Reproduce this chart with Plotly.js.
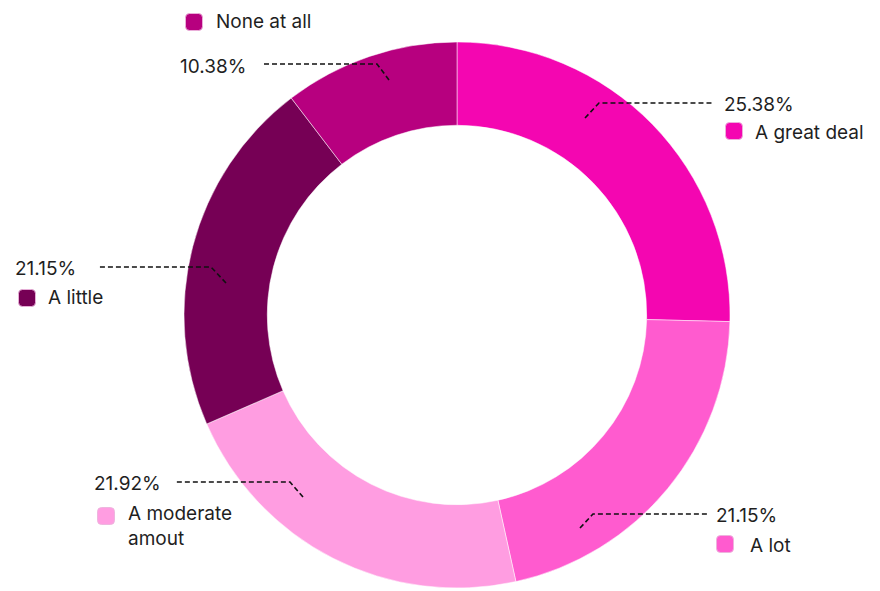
<!DOCTYPE html>
<html><head><meta charset="utf-8">
<script src="https://cdn.plot.ly/plotly-3.0.1.min.js"></script>
<style>html,body{margin:0;padding:0;background:#fff}#chart{width:880px;height:591px}</style>
</head><body><div id="chart"></div><script>
const categories = ['A great deal', 'A lot', 'A moderate amout', 'A little', 'None at all'];
const legendLabels = ['A great deal', 'A lot', 'A moderate<br>amout', 'A little', 'None at all'];
const values = [25.38, 21.15, 21.92, 21.15, 10.38];
const colors = ['#F406B1', '#FF5BCF', '#FF9DE1', '#760055', '#B7007F'];

const W = 880, H = 591;
const px = x => x / W, py = y => 1 - y / H;

// annotation placement (pixels) for each category
const labelLayout = [
  {tip: [585, 118], elbow: [599, 103], end: 713, pct: [722, 104, 'left'], box: [734, 131], text: [753, 132]},
  {tip: [580, 528], elbow: [593, 514], end: 707, pct: [714, 515, 'left'], box: [725, 544], text: [748, 545]},
  {tip: [303, 497], elbow: [290, 482], end: 176, pct: [163, 483, 'right'], box: [106, 516], text: [126, 526]},
  {tip: [226, 283], elbow: [211, 267], end: 97, pct: [78, 268, 'right'], box: [27, 298], text: [46, 297]},
  {tip: [389, 80], elbow: [377, 64], end: 262, pct: [248, 66, 'right'], box: [194, 22], text: [214, 22]}
];

const cx = 457, cy = 315, R = 273;
const fontFam = 'Inter, "Open Sans", sans-serif';
const fontSize = 19;
const textColor = '#1f1f1f';

const shapes = [], annotations = [];
function roundRect(cxp, cyp, s, r) {
  const x0 = cxp - s / 2, x1 = cxp + s / 2, y0 = cyp - s / 2, y1 = cyp + s / 2;
  const P = (x, y) => px(x) + ',' + py(y);
  return 'M' + P(x0 + r, y0) + ' L' + P(x1 - r, y0) + ' Q' + P(x1, y0) + ' ' + P(x1, y0 + r) +
    ' L' + P(x1, y1 - r) + ' Q' + P(x1, y1) + ' ' + P(x1 - r, y1) +
    ' L' + P(x0 + r, y1) + ' Q' + P(x0, y1) + ' ' + P(x0, y1 - r) +
    ' L' + P(x0, y0 + r) + ' Q' + P(x0, y0) + ' ' + P(x0 + r, y0) + ' Z';
}
labelLayout.forEach((L, i) => {
  const P = (x, y) => px(x) + ',' + py(y);
  shapes.push({type: 'path', xref: 'paper', yref: 'paper',
    path: 'M' + P(L.tip[0], L.tip[1]) + ' L' + P(L.elbow[0], L.elbow[1]) + ' L' + P(L.end, L.elbow[1]),
    line: {color: '#111', width: 1.6, dash: '5px,3px'}});
  shapes.push({type: 'path', xref: 'paper', yref: 'paper', path: roundRect(L.box[0], L.box[1], 17, 4),
    fillcolor: colors[i], line: {color: 'rgba(235,180,220,0.9)', width: 1}});
  annotations.push({xref: 'paper', yref: 'paper', x: px(L.pct[0]), y: py(L.pct[1]), xanchor: L.pct[2], yanchor: 'middle',
    text: values[i].toFixed(2) + '%', showarrow: false, font: {family: fontFam, size: fontSize, color: textColor}});
  annotations.push({xref: 'paper', yref: 'paper', x: px(L.text[0]), y: py(L.text[1]), xanchor: 'left', yanchor: 'middle', align: 'left',
    text: legendLabels[i], showarrow: false, font: {family: fontFam, size: fontSize, color: textColor}});
});

const trace = {
  type: 'pie', labels: categories, values: values, sort: false, direction: 'clockwise', rotation: 0,
  hole: 0.695, textinfo: 'none', hoverinfo: 'label+percent',
  marker: {colors: colors, line: {color: 'rgba(255,255,255,0.5)', width: 1}},
  domain: {x: [px(cx - R), px(cx + R)], y: [py(cy + R), py(cy - R)]}
};

Plotly.newPlot('chart', [trace], {
  width: W, height: H, margin: {l: 0, r: 0, t: 0, b: 0},
  paper_bgcolor: '#ffffff', plot_bgcolor: '#ffffff', showlegend: false,
  shapes: shapes, annotations: annotations
}, {displayModeBar: false, staticPlot: true});
</script></body></html>
